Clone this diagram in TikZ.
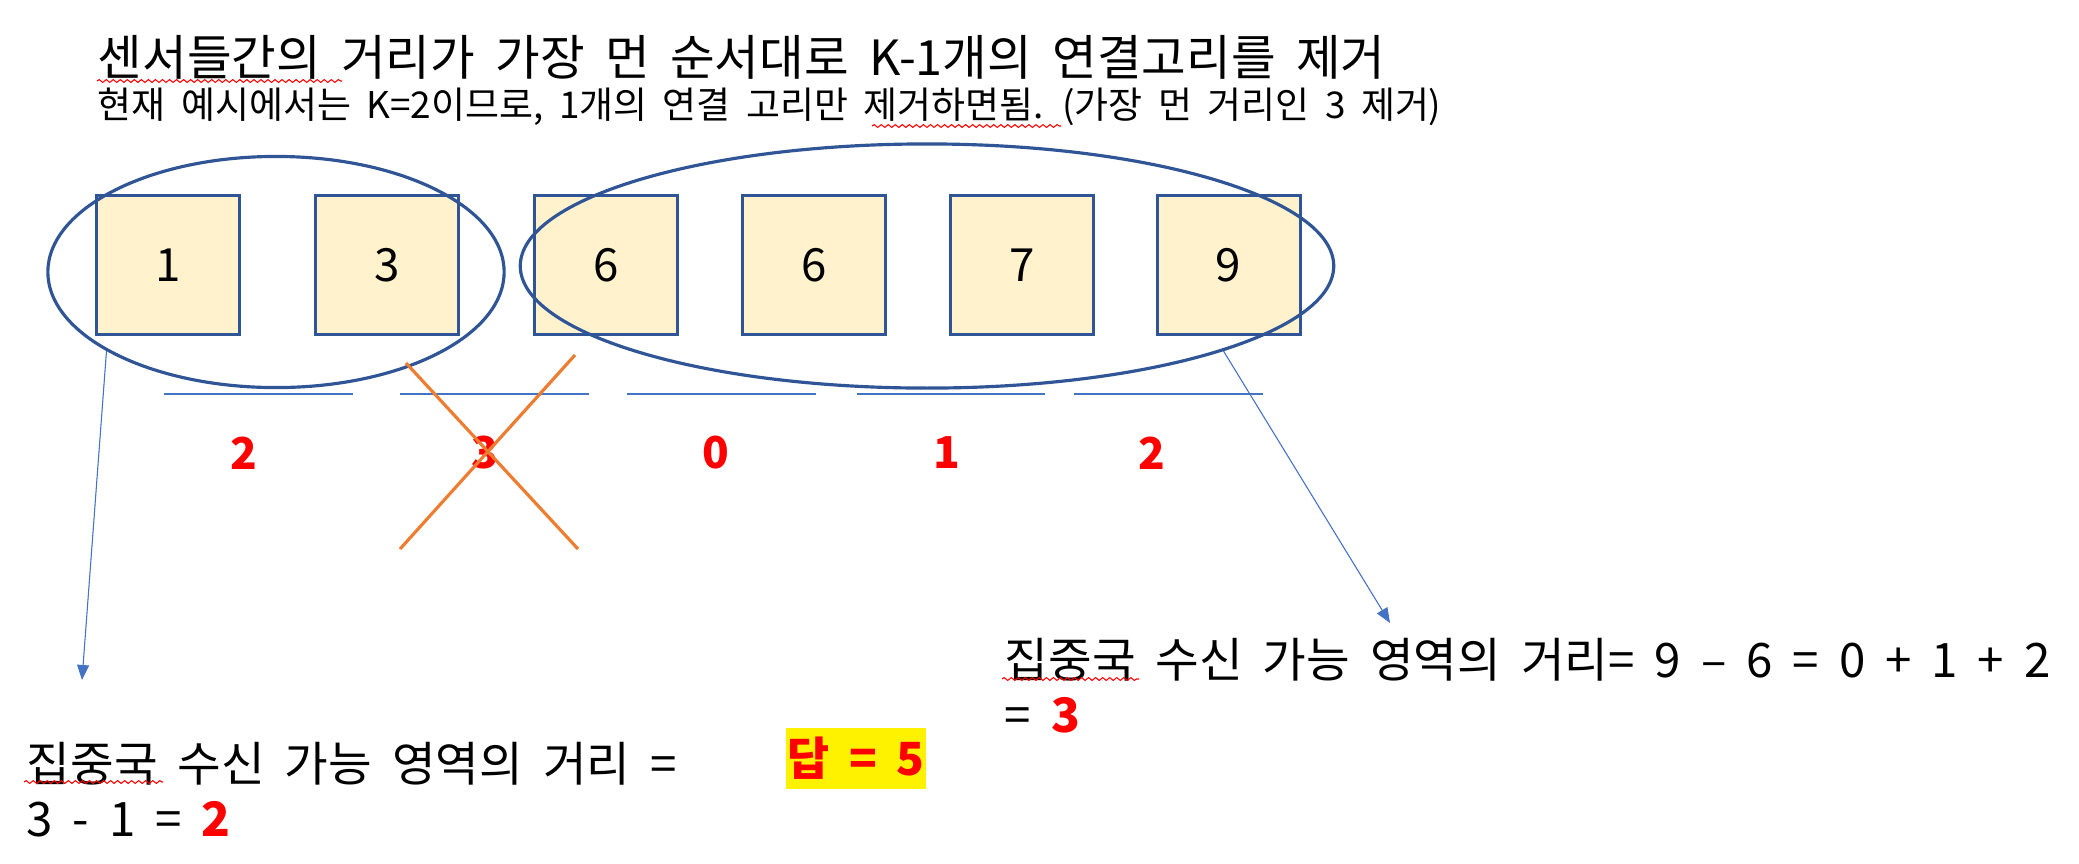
\documentclass[tikz,border=0pt]{standalone}
\usepackage{fontspec}
\setmainfont{Noto Sans CJK KR}
\usetikzlibrary{shapes.geometric,arrows.meta,positioning,decorations.pathmorphing}
\definecolor{boxfill}{HTML}{FFF2CC}
\definecolor{boxline}{HTML}{2F5597}
\definecolor{linkblue}{HTML}{4472C4}
\definecolor{crossorange}{HTML}{ED7D31}
\newcommand{\widespace}{\spaceskip=0.42em\relax}
\tikzset{
  sensor/.style={rectangle, draw=boxline, fill=boxfill, line width=0.8pt, minimum width=1.43cm, minimum height=1.39cm, inner sep=0pt, font=\fontsize{13}{15}\selectfont},
  group/.style={ellipse, draw=boxline, line width=0.9pt, inner sep=0pt},
  dist/.style={text=red, font=\fontsize{12.5}{15}\selectfont\bfseries, inner sep=0pt},
  arrow/.style={-{Triangle[length=0.15cm,width=0.12cm]}, draw=linkblue, fill=linkblue, line width=0.3pt},
  gapline/.style={draw=linkblue, line width=0.4pt},
  cross/.style={draw=crossorange, line width=0.9pt},
  note/.style={anchor=base west, inner sep=0pt, font=\fontsize{13.5}{16}\selectfont\widespace},
  spell/.style={draw=red, line width=0.3pt, decorate, decoration={snake, amplitude=0.4pt, segment length=2pt}},
}

\begin{document}
\begin{tikzpicture}[x=0.01cm, y=-0.01cm, node distance=0.73cm]
  \fill[white] (0,0) rectangle (2079,863);
  \useasboundingbox (0,0) rectangle (2079,863);

  % heading
  \node[note, font=\fontsize{13.8}{16}\selectfont\widespace] (title) at (97,75) {센서들간의 거리가 가장 먼 순서대로 K-1개의 연결고리를 제거};
  \node[note, font=\fontsize{10.5}{12}\selectfont\widespace] (sub) at (97,118) {현재 예시에서는 K=2이므로, 1개의 연결 고리만 제거하면됨. (가장 먼 거리인 3 제거)};

  % sensors
  \node[sensor] (s1) at (168,265) {1};
  \node[sensor, right=of s1] (s2) {3};
  \node[sensor, right=of s2] (s3) {6};
  \node[sensor, right=0.62cm of s3] (s4) {6};
  \node[sensor, right=0.62cm of s4] (s5) {7};
  \node[sensor, right=0.61cm of s5] (s6) {9};

  % groups
  \node[group, minimum width=4.56cm, minimum height=2.31cm] (grpA) at (276,272) {};
  \node[group, minimum width=8.13cm, minimum height=2.44cm] (grpB) at (927,266) {};

  % distances
  \foreach \a/\b in {164/353,400/589,627/816,857/1045,1074/1263}
    \draw[gapline] (\a,394) -- (\b,394);
  \foreach \x/\v [count=\i] in {244/2,485/3,716/0,947/1,1152/2}
    \node[dist] (d\i) at (\x,453) {\v};

  % removed link
  \draw[cross] (406,363) -- (578,549);
  \draw[cross] (575,355) -- (400,549);

  % results
  \coordinate (tipA) at (82,680);
  \coordinate (tipB) at (1390,623);
  \draw[arrow] (grpA.205) -- (tipA);
  \draw[arrow] (grpB.-16.4) -- (tipB);

  \node[note] (noteA) at (26,781) {집중국 수신 가능 영역의 거리 =};
  \node[note] (resA) at (26,836) {3 - 1 = {\color{red}\bfseries 2}};
  \node[note] (noteB) at (1004,677) {집중국 수신 가능 영역의 거리= 9 – 6 = 0 + 1 + 2};
  \node[note] (resB) at (1004,732) {= {\color{red}\bfseries 3}};
  \node[fill=yellow, text=red, font=\fontsize{13}{16}\selectfont\bfseries\widespace, minimum width=1.39cm, minimum height=0.61cm, inner sep=0pt] (answer) at (856,758) {답 = 5};

  % spell check marks
  \draw[spell] (97,81) -- (342,81);
  \draw[spell] (872,126) -- (1061,126);
  \draw[spell] (24,782) -- (163,782);
  \draw[spell] (1002,679) -- (1139,679);
\end{tikzpicture}
\end{document}
